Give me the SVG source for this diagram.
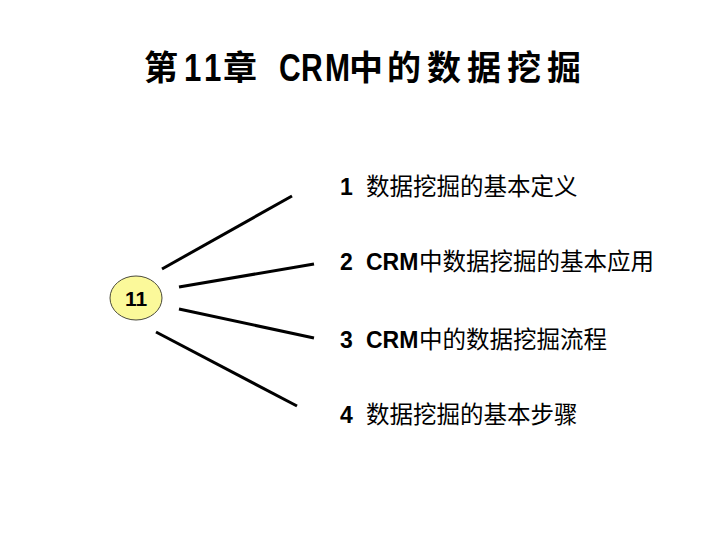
<svg xmlns="http://www.w3.org/2000/svg" width="720" height="540" viewBox="0 0 720 540">
<style>
.tc{font-family:"Noto Sans CJK SC",sans-serif;font-size:34px;font-weight:bold;fill:#000}
.tl{font-family:"Liberation Sans",sans-serif;font-size:39px;font-weight:bold;fill:#000}
.item{font-family:"Liberation Sans","Noto Sans CJK SC",sans-serif;font-size:23px;fill:#000}
.num{font-family:"Liberation Sans",sans-serif;font-weight:bold}
.cjk{font-family:"Noto Sans CJK SC",sans-serif;font-size:23.5px}
.conn{stroke:#000;stroke-width:3;stroke-linecap:butt;fill:none}
.hub{fill:#FBF99A;stroke:#4a4a3a;stroke-width:1}
.hubtxt{font-family:"Liberation Sans",sans-serif;font-size:21px;font-weight:bold;fill:#000}
</style>
<rect width="720" height="540" fill="#fff"/>
<g id="title">
<text class="tc" y="80"><tspan x="144">第</tspan><tspan x="223">章</tspan><tspan x="349">中</tspan><tspan x="387">的</tspan><tspan x="427">数</tspan><tspan x="467">据</tspan><tspan x="507">挖</tspan><tspan x="547">掘</tspan></text>
<text class="tl" transform="translate(184,81) scale(0.8,1)">1</text>
<text class="tl" transform="translate(204,81) scale(0.8,1)">1</text>
<text class="tl" transform="translate(279,81) scale(0.77,1)">C</text>
<text class="tl" transform="translate(301,81) scale(0.77,1)">R</text>
<text class="tl" transform="translate(325,81) scale(0.77,1)">M</text>
</g>
<g id="connectors">
<line class="conn" x1="162" y1="269" x2="292" y2="196"/>
<line class="conn" x1="179" y1="287" x2="314" y2="264"/>
<line class="conn" x1="179" y1="309" x2="314" y2="338"/>
<line class="conn" x1="156" y1="332" x2="297" y2="406"/>
</g>
<g id="hub">
<ellipse class="hub" cx="136" cy="298" rx="26" ry="22"/>
<text class="hubtxt" x="136" y="306" text-anchor="middle">11</text>
</g>
<g id="item1">
<text class="item" y="195"><tspan class="num" x="340">1</tspan><tspan class="cjk" x="366">数据挖掘的基本定义</tspan></text>
</g>
<g id="item2">
<text class="item" y="270"><tspan class="num" x="340">2</tspan><tspan class="num" x="366">CRM</tspan><tspan class="cjk" x="419">中数据挖掘的基本应用</tspan></text>
</g>
<g id="item3">
<text class="item" y="348"><tspan class="num" x="340">3</tspan><tspan class="num" x="366">CRM</tspan><tspan class="cjk" x="419">中的数据挖掘流程</tspan></text>
</g>
<g id="item4">
<text class="item" y="423"><tspan class="num" x="340">4</tspan><tspan class="cjk" x="366">数据挖掘的基本步骤</tspan></text>
</g>
</svg>
